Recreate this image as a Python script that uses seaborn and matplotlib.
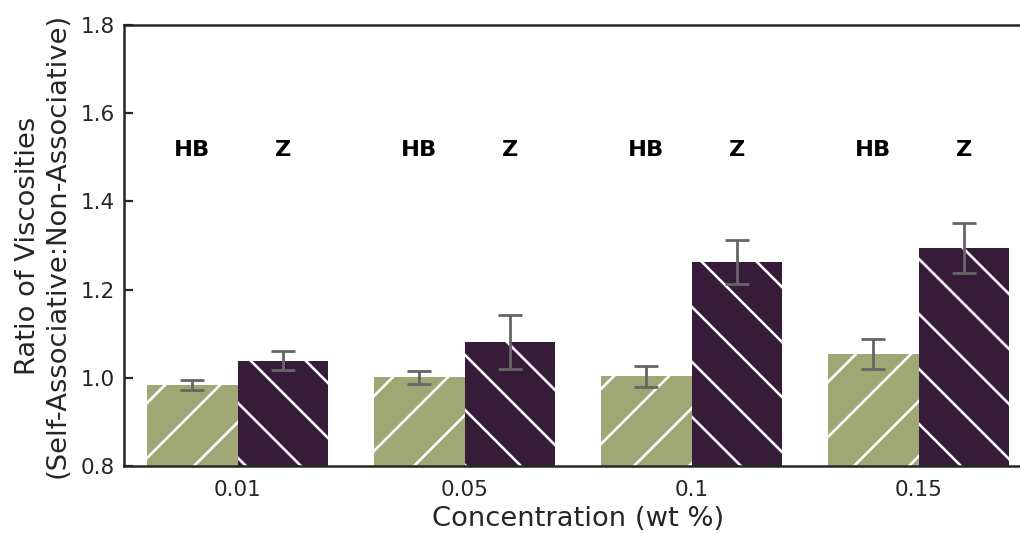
import pandas as pd
import matplotlib
matplotlib.use("Agg")
import matplotlib.pyplot as plt
import seaborn as sns

# ===== data =====
concentrations = ["0.01", "0.05", "0.1", "0.15"]
hb_ratio = [0.984, 1.001, 1.003, 1.055]
hb_err = [0.011, 0.014, 0.023, 0.034]
z_ratio = [1.039, 1.082, 1.263, 1.295]
z_err = [0.022, 0.061, 0.050, 0.057]
groups = ["HB", "Z"]

df = pd.DataFrame({
    "conc": concentrations * 2,
    "ratio": hb_ratio + z_ratio,
    "err": hb_err + z_err,
    "group": ["HB"] * 4 + ["Z"] * 4,
})

# ===== style (sizes given in px, converted to pt) =====
DPI = 330
PX = 72 / DPI
sns.set_style("ticks")
plt.rcParams['font.family'] = ['DejaVu Sans']
plt.rcParams['hatch.linewidth'] = 2.6 * PX
plt.rcParams['hatch.color'] = 'white'

dark = "#262626"
colors = ["#9fa774", "#361c39"]

fig = plt.figure(figsize=(1020 / DPI, 533 / DPI), dpi=DPI)
ax = fig.add_axes([124 / 1020, 67 / 533, 908 / 1020, 441 / 533])

sns.barplot(data=df, x="conc", y="ratio", hue="group", order=concentrations,
            hue_order=groups, palette=colors, saturation=1, errorbar=None,
            width=0.8, linewidth=0, legend=False, ax=ax)

hatches = ["//", "\\\\"]
for cont, h in zip(ax.containers, hatches):
    for p in cont:
        p.set_hatch(h)
        p.set_edgecolor("white")
        p.set_linewidth(0)
        if hasattr(p, "set_hatchcolor"):
            p.set_hatchcolor("white")

# error bars and group labels at bar centres
for cont, vals, errs, name in zip(ax.containers, [hb_ratio, z_ratio], [hb_err, z_err], groups):
    xs = [p.get_x() + p.get_width() / 2 for p in cont]
    ax.errorbar(xs, vals, yerr=errs, fmt="none", ecolor="#666666",
                elinewidth=2.8 * PX, capsize=12.5 * PX, capthick=2.8 * PX, zorder=3)
    for x in xs:
        ax.text(x, 1.517, name, ha="center", va="center", fontsize=22.5 * PX,
                fontweight="bold", color="black")

ax.set_xlim(-0.5, 3.5)
ax.set_ylim(0.8, 1.8)
ax.set_yticks([0.8, 1.0, 1.2, 1.4, 1.6, 1.8])
ax.set_yticklabels(["0.8", "1.0", "1.2", "1.4", "1.6", "1.8"])

ax.tick_params(axis="y", direction="in", length=9 * PX, width=2.2 * PX,
               pad=9 * PX, labelsize=21.6 * PX, colors=dark)
ax.tick_params(axis="x", length=0, pad=14 * PX, labelsize=21.6 * PX, colors=dark)

for side in ["left", "bottom", "top"]:
    ax.spines[side].set_visible(True)
    ax.spines[side].set_linewidth(2.5 * PX)
    ax.spines[side].set_color(dark)
ax.spines["right"].set_visible(False)

ax.set_xlabel("Concentration (wt %)", fontsize=27.4 * PX, color=dark, labelpad=6 * PX)
ax.set_ylabel("Ratio of Viscosities\n(Self-Associative:Non-Associative)",
              fontsize=27.4 * PX, color=dark, labelpad=10 * PX)

fig.savefig("out.png", dpi=DPI)
